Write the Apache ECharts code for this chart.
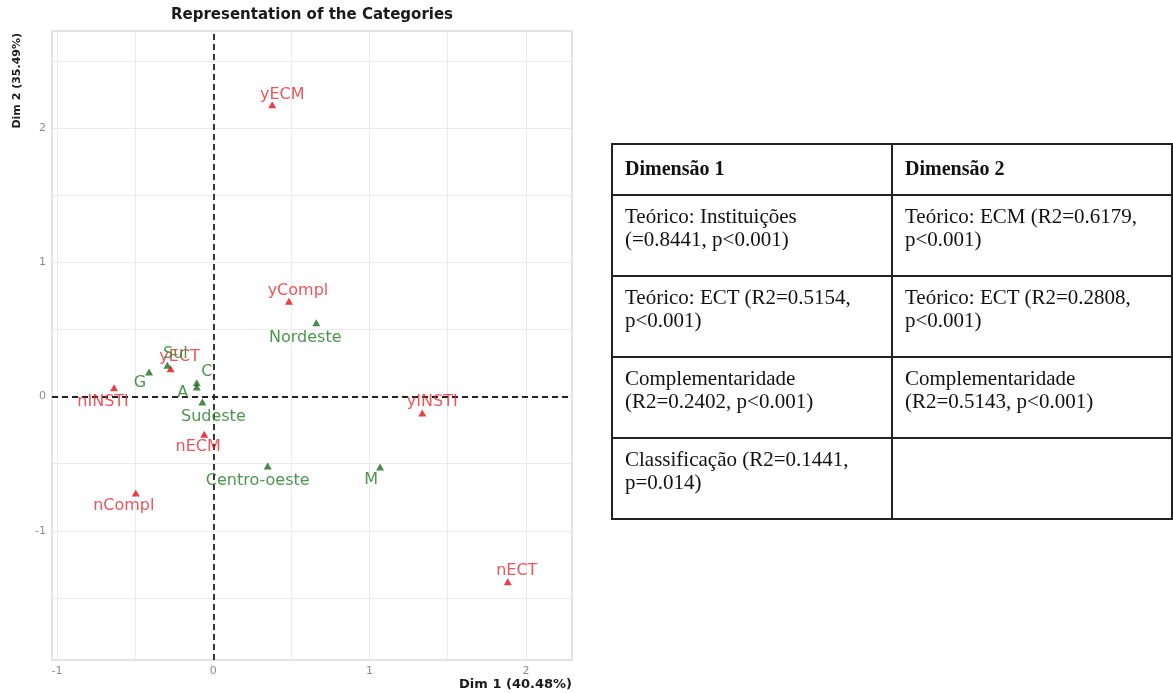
<!DOCTYPE html>
<html>
<head>
<meta charset="utf-8">
<script src="https://cdn.jsdelivr.net/npm/echarts@6/dist/echarts.min.js"></script>
<style>
  html, body { margin: 0; padding: 0; background: #fff; }
  #chart { position: absolute; left: 0; top: 0; width: 1173px; height: 693px; }
  #tbl { position: absolute; left: 611px; top: 143px; border-collapse: collapse;
         font-family: "Liberation Serif", "Times New Roman", serif; font-size: 21px;
         line-height: 23px; color: #111; }
  #tbl td, #tbl th { border: 2px solid #222; vertical-align: top; text-align: left;
         padding: 9px 12px 0 12px; white-space: pre-line; box-sizing: border-box; }
  #tbl th { font-weight: bold; font-size: 20px; height: 51px; padding-top: 12px; }
  #tbl td { height: 81px; }
  #tbl .c1 { width: 281px; } #tbl .c2 { width: 281px; }
</style>
</head>
<body>
<div id="chart"></div>
<table id="tbl"></table>
<script>
// ---- data ----
const chartTitle = 'Representation of the Categories';
const xAxisTitle = 'Dim 1 (40.48%)';
const yAxisTitle = 'Dim 2 (35.49%)';
const xTicks = [-1, 0, 1, 2];
const yTicks = [-1, 0, 1, 2];
const xGridValues = [-1, -0.5, 0, 0.5, 1, 1.5, 2];
const yGridValues = [-1.5, -1, -0.5, 0, 0.5, 1, 1.5, 2, 2.5];

const activeNames = ['yECM', 'yCompl', 'yINSTI', 'nECT', 'nCompl', 'nECM', 'nINSTI', 'yECT'];
const activeDim1  = [0.377, 0.484, 1.337, 1.884, -0.496, -0.058, -0.635, -0.273];
const activeDim2  = [2.176, 0.710, -0.122, -1.380, -0.718, -0.281, 0.067, 0.208];

const suppNames = ['Nordeste', 'M', 'Centro-oeste', 'Sudeste', 'C', 'A', 'G', 'Sul'];
const suppDim1  = [0.659, 1.067, 0.348, -0.070, -0.106, -0.106, -0.411, -0.294];
const suppDim2  = [0.551, -0.524, -0.517, -0.040, 0.104, 0.071, 0.183, 0.233];

const tableHeader = ['Dimensão 1', 'Dimensão 2'];
const tableDim1 = ['Teórico: Instituições\n(=0.8441, p<0.001)', 'Teórico: ECT (R2=0.5154,\np<0.001)',
                   'Complementaridade\n(R2=0.2402, p<0.001)', 'Classificação (R2=0.1441,\np=0.014)'];
const tableDim2 = ['Teórico: ECM (R2=0.6179,\np<0.001)', 'Teórico: ECT (R2=0.2808,\np<0.001)',
                   'Complementaridade\n(R2=0.5143, p<0.001)', ''];

// ---- label placement (pixels, repel-like offsets; styling only) ----
const labelOffset = {
  yECM: [10, -10], yCompl: [9, -11], yINSTI: [10, -11], nECT: [9, -11],
  nCompl: [-12, 13], nECM: [-6, 13], nINSTI: [-11, 14], yECT: [9, -12],
  Nordeste: [-11, 15], M: [-9, 13], 'Centro-oeste': [-10, 15], Sudeste: [11, 15],
  C: [10, -11], A: [-14, 6], G: [-9, 11], Sul: [8, -12]
};

// ---- table ----
(function () {
  const t = document.getElementById('tbl');
  let h = '<tr><th class="c1">' + tableHeader[0] + '</th><th class="c2">' + tableHeader[1] + '</th></tr>';
  const esc = s => s.replace(/&/g, '&amp;').replace(/</g, '&lt;');
  for (let i = 0; i < tableDim1.length; i++) {
    h += '<tr><td class="c1">' + esc(tableDim1[i]) + '</td><td class="c2">' + esc(tableDim2[i]) + '</td></tr>';
  }
  t.innerHTML = h;
})();

// ---- chart ----
const RED_PT = '#e0101c', RED_TX = '#e62a32';
const GRN_PT = '#1b6b1b', GRN_TX = '#3a8a3a';
const FONT = '"DejaVu Sans", "Liberation Sans", Arial, sans-serif';

function build(names, xs, ys) {
  return names.map((n, i) => ({
    name: n, value: [xs[i], ys[i]],
    label: { offset: labelOffset[n] || [0, -12] }
  }));
}

const chart = echarts.init(document.getElementById('chart'), null, { renderer: 'canvas' });
const GL = 52, GR = 572, GT = 31, GB = 660;

chart.setOption({
  animation: false,
  backgroundColor: '#ffffff',
  grid: { left: GL, right: 1173 - GR, top: GT, bottom: 693 - GB, show: true,
          borderColor: '#c8c8c8', borderWidth: 1, backgroundColor: 'transparent' },
  xAxis: {
    type: 'value', min: -1.032, max: 2.295,
    axisLine: { show: false },
    splitLine: { show: false },
    axisTick: { show: true, customValues: xTicks, length: 3, lineStyle: { color: '#bbbbbb' } },
    axisLabel: { customValues: xTicks, color: '#8c8c8c', fontSize: 11, fontFamily: FONT, margin: 6 }
  },
  yAxis: {
    type: 'value', min: -1.963, max: 2.725,
    axisLine: { show: false },
    splitLine: { show: false },
    axisTick: { show: true, customValues: yTicks, length: 3, lineStyle: { color: '#bbbbbb' } },
    axisLabel: { customValues: yTicks, color: '#8c8c8c', fontSize: 11, fontFamily: FONT, margin: 6 }
  },
  graphic: [
    { type: 'text', silent: true, x: (GL + GR) / 2, y: 15,
      style: { text: chartTitle, x: 0, y: 0, textAlign: 'center', textVerticalAlign: 'middle',
               font: 'bold 15px ' + FONT, fill: '#1a1a1a' } },
    { type: 'text', silent: true, x: GR, y: 685,
      style: { text: xAxisTitle, x: 0, y: 0, textAlign: 'right', textVerticalAlign: 'middle',
               font: 'bold 13px ' + FONT, fill: '#1a1a1a' } },
    { type: 'text', silent: true, x: 17, y: GT + 2, rotation: Math.PI / 2,
      style: { text: yAxisTitle, x: 0, y: 0, textAlign: 'right', textVerticalAlign: 'middle',
               font: 'bold 11px ' + FONT, fill: '#1a1a1a' } }
  ],
  series: [
    {
      type: 'scatter', name: 'grid', data: [], silent: true, z: 1,
      markLine: {
        silent: true, symbol: 'none', animation: false,
        label: { show: false },
        lineStyle: { color: '#ebebeb', width: 1, type: 'solid' },
        data: xGridValues.map(v => ({ xAxis: v })).concat(yGridValues.map(v => ({ yAxis: v })))
      }
    },
    {
      type: 'scatter', name: 'zero', data: [], silent: true, z: 2,
      markLine: {
        silent: true, symbol: 'none', animation: false,
        label: { show: false },
        lineStyle: { color: '#222222', width: 1.8, type: [6, 4] },
        data: [{ xAxis: 0 }, { yAxis: 0 }]
      }
    },
    {
      type: 'scatter', name: 'active', z: 5,
      symbol: 'triangle', symbolSize: [8, 7],
      itemStyle: { color: RED_PT },
      label: { show: true, position: 'inside', formatter: '{b}', color: RED_TX,
               fontSize: 16, fontFamily: FONT },
      data: build(activeNames, activeDim1, activeDim2)
    },
    {
      type: 'scatter', name: 'supp', z: 6,
      symbol: 'triangle', symbolSize: [8, 7],
      itemStyle: { color: GRN_PT },
      label: { show: true, position: 'inside', formatter: '{b}', color: GRN_TX,
               fontSize: 16, fontFamily: FONT, opacity: 0.9 },
      data: build(suppNames, suppDim1, suppDim2)
    }
  ]
});
</script>
</body>
</html>
